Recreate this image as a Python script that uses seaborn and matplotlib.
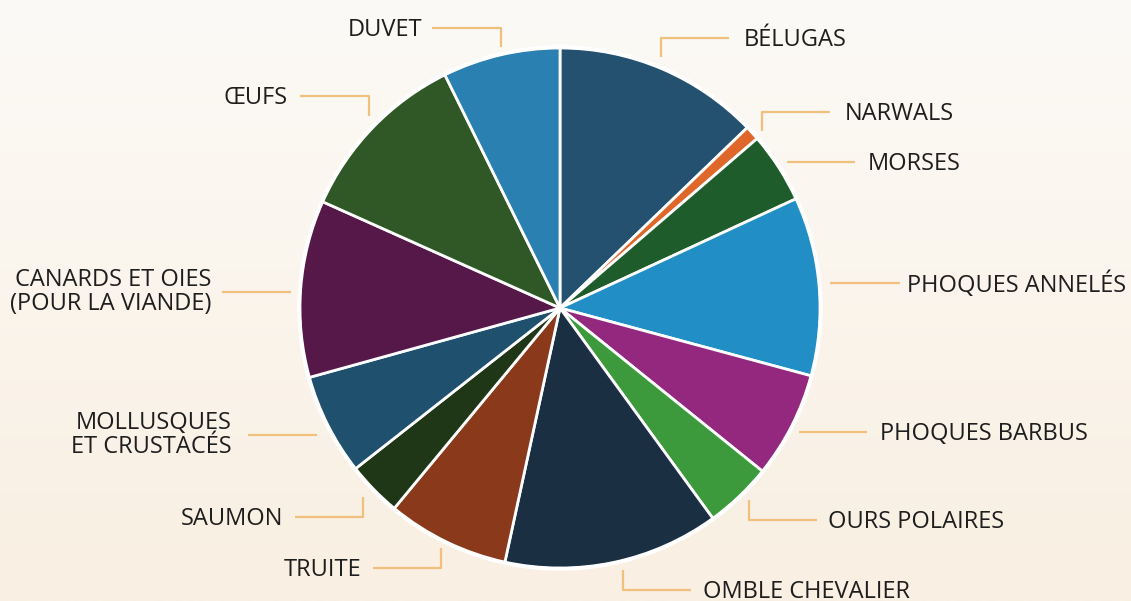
import numpy as np
import matplotlib.pyplot as plt
import seaborn as sns

# Données (parts en %, dans le sens horaire depuis le haut)
categories = ['BÉLUGAS', 'NARWALS', 'MORSES', 'PHOQUES ANNELÉS', 'PHOQUES BARBUS',
              'OURS POLAIRES', 'OMBLE CHEVALIER', 'TRUITE', 'SAUMON',
              'MOLLUSQUES\nET CRUSTACÉS', 'CANARDS ET OIES\n(POUR LA VIANDE)', 'ŒUFS', 'DUVET']
parts = [12.8, 0.9, 4.4, 11.1, 6.6, 4.2, 13.4, 7.6, 3.4, 6.3, 11.0, 11.0, 7.3]
couleurs = ['#24516f', '#e0672a', '#1f5c2c', '#218fc6', '#93287e', '#3d9a3c', '#1b2f42',
            '#8a3a1a', '#1f3617', '#1f506e', '#561848', '#305826', '#2a80b0']

sns.set_style("white")
plt.rcParams['font.family'] = ['Open Sans', 'DejaVu Sans']

W, H = 1131, 601
fig = plt.figure(figsize=(W / 100, H / 100), dpi=100)

# fond en dégradé
bg = fig.add_axes([0, 0, 1, 1])
grad = np.linspace(0, 1, 256).reshape(-1, 1)
top = np.array([252, 250, 246]) / 255
bot = np.array([249, 239, 226]) / 255
img = top + (bot - top) * grad[..., None]
bg.imshow(img, aspect='auto', extent=[0, 1, 0, 1])
bg.axis('off')

ax = fig.add_axes([0, 0, 1, 1])
ax.patch.set_alpha(0)

cx, cy, r = 560, H - 308, 260
ax.pie(parts, colors=sns.color_palette(couleurs), startangle=90, counterclock=False,
       center=(cx, cy), radius=r, frame=True,
       wedgeprops=dict(edgecolor='white', linewidth=2))
ax.add_patch(plt.Circle((cx, cy), r + 1, fill=False, edgecolor='white', linewidth=2.5))
ax.set_xlim(0, W)
ax.set_ylim(0, H)
ax.set_aspect('equal')
ax.axis('off')

# étiquettes : (x_texte, y, alignement, ligne [(x,y),...])
etiquettes = [
    (744, 38, 'left', [(661, 57), (661, 38), (729, 38)]),
    (845, 112, 'left', [(762, 131), (762, 112), (830, 112)]),
    (868, 162, 'left', [(787, 162), (855, 162)]),
    (907, 283, 'left', [(830, 283), (900, 283)]),
    (880, 432, 'left', [(799, 432), (867, 432)]),
    (828, 520, 'left', [(749, 500), (749, 520), (817, 520)]),
    (703, 590, 'left', [(623, 570), (623, 590), (691, 590)]),
    (361, 568, 'right', [(441, 548), (441, 568), (373, 568)]),
    (283, 517, 'right', [(363, 497), (363, 517), (295, 517)]),
    (232, 433, 'right', [(317, 435), (248, 435)]),
    (211, 290, 'right', [(291, 292), (222, 292)]),
    (288, 96, 'right', [(369, 116), (369, 96), (300, 96)]),
    (422, 28, 'right', [(501, 47), (501, 28), (432, 28)]),
]
for nom, (tx, ty, ha, pts) in zip(categories, etiquettes):
    xs = [p[0] for p in pts]
    ys = [H - p[1] for p in pts]
    ax.plot(xs, ys, color='#f0c07c', linewidth=1.6, solid_capstyle='butt')
    ax.text(tx, H - ty - 2, nom, ha=ha, va='center', fontsize=17, color='#1e1e1e',
            multialignment=ha, linespacing=1.0)

fig.savefig('out.png', dpi=100)
